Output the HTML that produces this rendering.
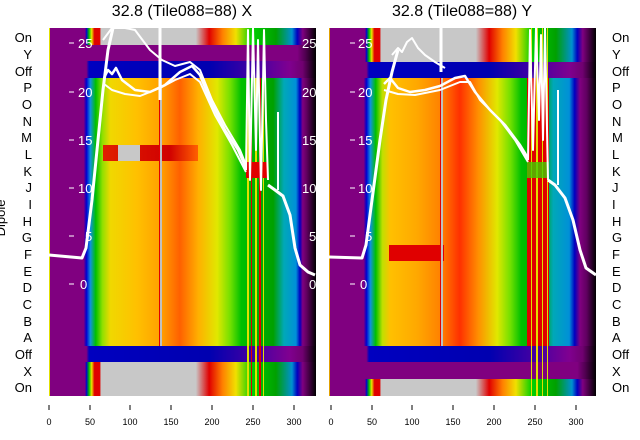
<!DOCTYPE html>
<html><head><meta charset="utf-8"><style>
body{margin:0;background:#fff;}
svg{display:block;font-family:"Liberation Sans","DejaVu Sans",sans-serif;}
</style></head><body>
<svg width="640" height="440" viewBox="0 0 640 440" xmlns="http://www.w3.org/2000/svg">
<defs>
<linearGradient id="bg" x1="0" x2="1" y1="0" y2="0">
<stop offset="0" stop-color="#800080"/><stop offset="0.93" stop-color="#800080"/>
<stop offset="0.96" stop-color="#500050"/><stop offset="1" stop-color="#000"/>
</linearGradient>
<linearGradient id="body" x1="0" x2="1" y1="0" y2="0">
<stop offset="0" stop-color="#800080"/><stop offset="0.13" stop-color="#800080"/>
<stop offset="0.14" stop-color="#0000d0"/><stop offset="0.155" stop-color="#1090e0"/>
<stop offset="0.175" stop-color="#00c000"/><stop offset="0.2" stop-color="#90e000"/>
<stop offset="0.23" stop-color="#f0d800"/><stop offset="0.33" stop-color="#ffc000"/>
<stop offset="0.42" stop-color="#ffa000"/><stop offset="0.49" stop-color="#ff6000"/>
<stop offset="0.56" stop-color="#ffb000"/><stop offset="0.63" stop-color="#e0e800"/>
<stop offset="0.68" stop-color="#70e000"/><stop offset="0.72" stop-color="#00c000"/>
<stop offset="0.84" stop-color="#00a000"/><stop offset="0.88" stop-color="#00a8b8"/>
<stop offset="0.925" stop-color="#0090d8"/><stop offset="0.94" stop-color="#0000c0"/>
<stop offset="0.95" stop-color="#800080"/><stop offset="0.965" stop-color="#600060"/>
<stop offset="1" stop-color="#000"/>
</linearGradient>
<linearGradient id="body2" x1="0" x2="1" y1="0" y2="0">
<stop offset="0" stop-color="#800080"/><stop offset="0.13" stop-color="#800080"/>
<stop offset="0.14" stop-color="#0000d0"/><stop offset="0.155" stop-color="#1090e0"/>
<stop offset="0.175" stop-color="#00c000"/><stop offset="0.2" stop-color="#c0e000"/>
<stop offset="0.23" stop-color="#ffc000"/><stop offset="0.33" stop-color="#ffa800"/>
<stop offset="0.42" stop-color="#ff8000"/><stop offset="0.49" stop-color="#ff3000"/>
<stop offset="0.56" stop-color="#ff9000"/><stop offset="0.63" stop-color="#e0e800"/>
<stop offset="0.68" stop-color="#70e000"/><stop offset="0.72" stop-color="#00c000"/>
<stop offset="0.8" stop-color="#00a000"/><stop offset="0.84" stop-color="#00a8b8"/>
<stop offset="0.9" stop-color="#0090d8"/><stop offset="0.92" stop-color="#0000c0"/>
<stop offset="0.94" stop-color="#800080"/><stop offset="0.965" stop-color="#600060"/>
<stop offset="1" stop-color="#000"/>
</linearGradient>
<linearGradient id="off" x1="0" x2="1" y1="0" y2="0">
<stop offset="0" stop-color="#800080"/><stop offset="0.14" stop-color="#800080"/>
<stop offset="0.15" stop-color="#0000c0"/><stop offset="0.6" stop-color="#0000b0"/>
<stop offset="0.8" stop-color="#5000a0"/><stop offset="0.9" stop-color="#800090"/>
<stop offset="0.95" stop-color="#700070"/><stop offset="1" stop-color="#000"/>
</linearGradient>
<linearGradient id="on" x1="0" x2="1" y1="0" y2="0">
<stop offset="0" stop-color="#800080"/><stop offset="0.135" stop-color="#800080"/>
<stop offset="0.14" stop-color="#0000d0"/><stop offset="0.15" stop-color="#00c000"/>
<stop offset="0.16" stop-color="#f0e000"/><stop offset="0.17" stop-color="#e00000"/>
<stop offset="0.19" stop-color="#e00000"/><stop offset="0.195" stop-color="#c8c8c8"/>
<stop offset="0.55" stop-color="#c8c8c8"/><stop offset="0.6" stop-color="#e00000"/>
<stop offset="0.65" stop-color="#ff8000"/><stop offset="0.7" stop-color="#f0e000"/>
<stop offset="0.76" stop-color="#00d000"/><stop offset="0.85" stop-color="#00a000"/>
<stop offset="0.91" stop-color="#0090d0"/><stop offset="0.93" stop-color="#0000c0"/>
<stop offset="0.95" stop-color="#800080"/><stop offset="1" stop-color="#000"/>
</linearGradient>
<linearGradient id="lred" x1="0" x2="1" y1="0" y2="0">
<stop offset="0" stop-color="#e02000"/><stop offset="0.7" stop-color="#d00000"/><stop offset="1" stop-color="#ff6000"/>
</linearGradient>
</defs>

<text x="182" y="16" font-size="16" text-anchor="middle">32.8 (Tile088=88) X</text>
<text x="462" y="16" font-size="16" text-anchor="middle">32.8 (Tile088=88) Y</text>

<!-- LEFT PANEL -->
<g>
<rect x="49" y="28" width="267" height="368" fill="url(#bg)"/>
<rect x="49" y="28" width="267" height="17" fill="url(#on)"/>
<rect x="49" y="61" width="267" height="17" fill="url(#off)"/>
<rect x="49" y="78" width="267" height="268" fill="url(#body)"/>
<rect x="49" y="346" width="267" height="16" fill="url(#off)"/>
<rect x="49" y="362" width="267" height="34" fill="url(#on)"/>
<rect x="49" y="28" width="1" height="368" fill="#e0e000"/>
<rect x="103" y="145" width="95" height="16" fill="url(#lred)"/>
<rect x="118" y="145" width="22" height="16" fill="#c8c8c8"/>
<rect x="160" y="78" width="2" height="268" fill="#c0c0c0"/>
<rect x="159" y="78" width="1" height="268" fill="#e00000"/>
<g fill="#e0e000"><rect x="247" y="78" width="2" height="318"/><rect x="255" y="78" width="2" height="318"/><rect x="263" y="78" width="1" height="318"/></g>
<g fill="#e00000"><rect x="251" y="78" width="1" height="318"/><rect x="259" y="78" width="2" height="318"/></g>
<rect x="246" y="162" width="22" height="16" fill="#e00000"/>
<g fill="none" stroke="#fff" stroke-linejoin="round">
<polyline stroke-width="3" points="49,255 82,258 86,248 92,200 98,140 103,90 108,50 113,28"/>
<polyline stroke-width="2" points="103,40 112,28 125,28 135,30 150,50 162,60 175,66 190,62 200,70 212,100 225,125 240,150 246,165"/>
<polyline stroke-width="2.5" points="104,78 108,70 112,74 116,68 122,80 135,90 150,92 165,85 180,72 192,66 200,75 210,100 225,130 238,150 246,168"/>
<polyline stroke-width="2" points="104,84 112,90 125,94 140,96 160,88 175,80 190,74 200,82 215,115 232,145 246,172"/>
<polyline stroke-width="2" points="246,170 248,30 250,180 253,28 256,150 258,40 261,190 264,30 266,120 268,180"/>
<polyline stroke-width="3" points="268,185 275,190 283,196 290,215 295,248 300,265 308,272 315,275"/>
<polyline stroke-width="2" points="278,190 278,112"/>
<polyline stroke-width="3" points="160,28 160,100"/>
</g>
<g fill="#fff" font-size="13">
<text x="78" y="48">25</text><text x="78" y="97">20</text><text x="78" y="145">15</text><text x="78" y="193">10</text><text x="85" y="241">5</text><text x="80" y="289">0</text>
<text x="302" y="48">25</text><text x="302" y="97">20</text><text x="302" y="145">15</text><text x="302" y="193">10</text><text x="309" y="241">5</text><text x="309" y="289">0</text>
</g>
<g stroke="#fff"><line x1="69" x2="74" y1="43" y2="43"/><line x1="69" x2="74" y1="92" y2="92"/><line x1="69" x2="74" y1="140" y2="140"/><line x1="69" x2="74" y1="188" y2="188"/><line x1="69" x2="74" y1="236" y2="236"/><line x1="69" x2="74" y1="284" y2="284"/></g>
</g>

<!-- RIGHT PANEL -->
<g>
<rect x="329" y="28" width="267" height="368" fill="url(#bg)"/>
<rect x="329" y="28" width="267" height="34" fill="url(#on)"/>
<rect x="329" y="62" width="267" height="16" fill="url(#off)"/>
<rect x="329" y="78" width="267" height="268" fill="url(#body2)"/>
<rect x="329" y="346" width="267" height="16" fill="url(#off)"/>
<rect x="329" y="379" width="267" height="17" fill="url(#on)"/>
<rect x="329" y="28" width="1" height="368" fill="#e0a000"/>
<rect x="389" y="245" width="55" height="16" fill="#e00000"/>
<rect x="441" y="78" width="2" height="268" fill="#c0c0c0"/>
<rect x="440" y="78" width="1" height="268" fill="#e00000"/>
<rect x="527" y="78" width="22" height="268" fill="#e00000"/>
<g fill="#e0e000"><rect x="531" y="28" width="1" height="368"/><rect x="536" y="28" width="2" height="368"/><rect x="542" y="28" width="1" height="368"/><rect x="547" y="28" width="1" height="368"/></g>
<rect x="527" y="162" width="22" height="16" fill="#40d000" opacity="0.8"/>
<g fill="none" stroke="#fff" stroke-linejoin="round">
<polyline stroke-width="3" points="329,257 362,258 366,245 372,200 380,140 386,100 392,72 398,50"/>
<polyline stroke-width="2" points="392,55 398,48 402,52 407,42 412,38 418,48 425,55 435,62 445,68"/>
<polyline stroke-width="2.5" points="384,84 390,78 398,88 410,92 425,90 440,86 455,78 465,76 475,92 490,110 505,125 520,145 528,158"/>
<polyline stroke-width="2" points="384,90 398,94 415,95 440,90 460,82 470,82 480,100 500,120 515,140 528,162"/>
<polyline stroke-width="2" points="528,160 530,30 533,150 536,28 539,120 541,35 543,140 545,28 548,180"/>
<polyline stroke-width="3" points="548,180 555,185 565,198 573,220 580,250 586,268 596,275"/>
<polyline stroke-width="2" points="558,185 558,90"/>
<polyline stroke-width="3" points="441,28 441,72"/>
</g>
<g fill="#fff" font-size="13">
<text x="358" y="48">25</text><text x="358" y="97">20</text><text x="358" y="145">15</text><text x="358" y="193">10</text><text x="365" y="241">5</text><text x="360" y="289">0</text>
</g>
<g stroke="#fff"><line x1="350" x2="355" y1="43" y2="43"/><line x1="350" x2="355" y1="92" y2="92"/><line x1="350" x2="355" y1="140" y2="140"/><line x1="350" x2="355" y1="188" y2="188"/><line x1="350" x2="355" y1="236" y2="236"/><line x1="350" x2="355" y1="284" y2="284"/></g>
</g>

<g font-size="13" text-anchor="end" fill="#000">
<text x="32" y="42">On</text><text x="32" y="59">Y</text><text x="32" y="76">Off</text><text x="32" y="92">P</text><text x="32" y="109">O</text><text x="32" y="126">N</text><text x="32" y="142">M</text><text x="32" y="159">L</text><text x="32" y="176">K</text><text x="32" y="192">J</text><text x="32" y="209">I</text><text x="32" y="226">H</text><text x="32" y="242">G</text><text x="32" y="259">F</text><text x="32" y="276">E</text><text x="32" y="292">D</text><text x="32" y="309">C</text><text x="32" y="326">B</text><text x="32" y="342">A</text><text x="32" y="359">Off</text><text x="32" y="376">X</text><text x="32" y="392">On</text>
</g>
<text transform="translate(5,218) rotate(-90)" font-size="13" text-anchor="middle">Dipole</text>
<g font-size="13" text-anchor="start" fill="#000">
<text x="612" y="42">On</text><text x="612" y="59">Y</text><text x="612" y="76">Off</text><text x="612" y="92">P</text><text x="612" y="109">O</text><text x="612" y="126">N</text><text x="612" y="142">M</text><text x="612" y="159">L</text><text x="612" y="176">K</text><text x="612" y="192">J</text><text x="612" y="209">I</text><text x="612" y="226">H</text><text x="612" y="242">G</text><text x="612" y="259">F</text><text x="612" y="276">E</text><text x="612" y="292">D</text><text x="612" y="309">C</text><text x="612" y="326">B</text><text x="612" y="342">A</text><text x="612" y="359">Off</text><text x="612" y="376">X</text><text x="612" y="392">On</text>
</g>

<g stroke="#000" stroke-width="1">
<line x1="49" x2="49" y1="405" y2="410"/><line x1="90" x2="90" y1="405" y2="410"/><line x1="130" x2="130" y1="405" y2="410"/><line x1="171" x2="171" y1="405" y2="410"/><line x1="212" x2="212" y1="405" y2="410"/><line x1="253" x2="253" y1="405" y2="410"/><line x1="294" x2="294" y1="405" y2="410"/>
<line x1="331" x2="331" y1="405" y2="410"/><line x1="372" x2="372" y1="405" y2="410"/><line x1="412" x2="412" y1="405" y2="410"/><line x1="453" x2="453" y1="405" y2="410"/><line x1="494" x2="494" y1="405" y2="410"/><line x1="535" x2="535" y1="405" y2="410"/><line x1="576" x2="576" y1="405" y2="410"/>
</g>
<g font-size="9" text-anchor="middle" fill="#000">
<text x="49" y="425">0</text><text x="90" y="425">50</text><text x="130" y="425">100</text><text x="171" y="425">150</text><text x="212" y="425">200</text><text x="253" y="425">250</text><text x="294" y="425">300</text>
<text x="331" y="425">0</text><text x="372" y="425">50</text><text x="412" y="425">100</text><text x="453" y="425">150</text><text x="494" y="425">200</text><text x="535" y="425">250</text><text x="576" y="425">300</text>
</g>
</svg>
</body></html>
